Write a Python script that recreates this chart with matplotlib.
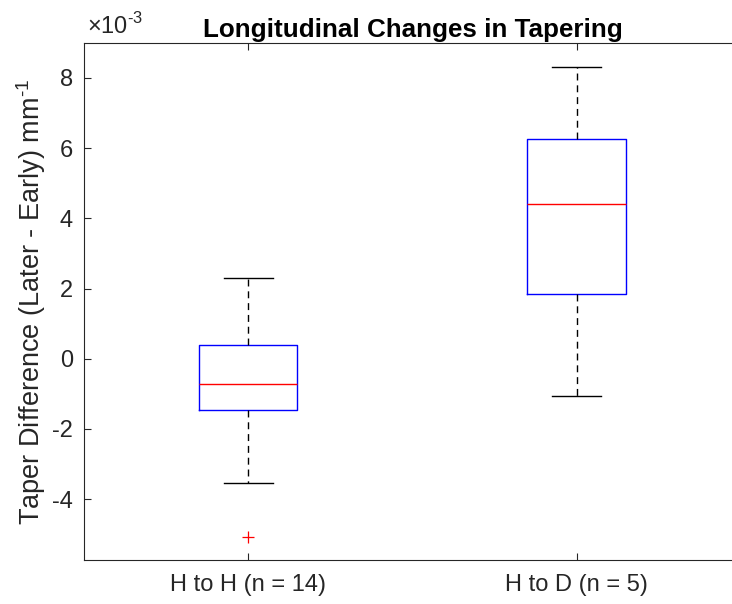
import matplotlib
matplotlib.use('Agg')
import matplotlib.pyplot as plt

plt.rcParams['font.family'] = ['Liberation Sans', 'DejaVu Sans']
plt.rcParams['mathtext.fontset'] = 'custom'
plt.rcParams['mathtext.rm'] = 'Liberation Sans'

# values in units of 1e-3 mm^-1
groups = ['H to H (n = 14)', 'H to D (n = 5)']
medians = [-0.71, 4.42]
q1s = [-1.45, 1.83]
q3s = [0.40, 6.27]
whisk_lo = [-3.55, -1.05]
whisk_hi = [2.29, 8.32]
outliers = [[-5.09], []]

AX_COLOR = '#262626'

fig = plt.figure(figsize=(7.32, 6.04), dpi=100)
ax = fig.add_axes([84 / 732, 1 - 560.3 / 604, 656.8 / 732, 517.6 / 604])

stats = []
for i in range(len(groups)):
    stats.append(dict(med=medians[i], q1=q1s[i], q3=q3s[i],
                      whislo=whisk_lo[i], whishi=whisk_hi[i],
                      fliers=outliers[i], label=groups[i]))

ax.bxp(stats, positions=[1, 2], widths=0.3, showfliers=True,
       boxprops=dict(color='#0000ff', linewidth=1.0),
       medianprops=dict(color='#ff0000', linewidth=1.0),
       whiskerprops=dict(color='black', linewidth=1.0, linestyle=(0, (5, 3.5))),
       capprops=dict(color='black', linewidth=1.0),
       capwidths=0.15,
       flierprops=dict(marker='+', markeredgecolor='#ff0000', markersize=9,
                       linestyle='none', markeredgewidth=0.9))

ax.set_xlim(0.5, 2.5)
ax.set_ylim(-5.74, 9.0)
ax.set_yticks([-4, -2, 0, 2, 4, 6, 8])
ax.set_yticklabels(['-4', '-2', '0', '2', '4', '6', '8'])

for side in ['left', 'bottom', 'top']:
    ax.spines[side].set_color(AX_COLOR)
    ax.spines[side].set_linewidth(0.8)
ax.spines['right'].set_visible(False)
ax.tick_params(direction='in', length=5, width=0.8, colors=AX_COLOR,
               labelsize=17, top=True, pad=8)
ax.tick_params(axis='x', pad=10)

ax.set_ylabel(r'Taper Difference (Later - Early) mm$^{\text{-1}}$', fontsize=19.5,
              color=AX_COLOR, labelpad=3)
ax.set_title('Longitudinal Changes in Tapering', fontsize=18.7, fontweight='bold',
             pad=4)
ax.text(0.005, 1.008, r'$\times10^{\text{-3}}$', transform=ax.transAxes, fontsize=17,
        color=AX_COLOR, ha='left', va='bottom')

fig.savefig('out.png', dpi=100)
